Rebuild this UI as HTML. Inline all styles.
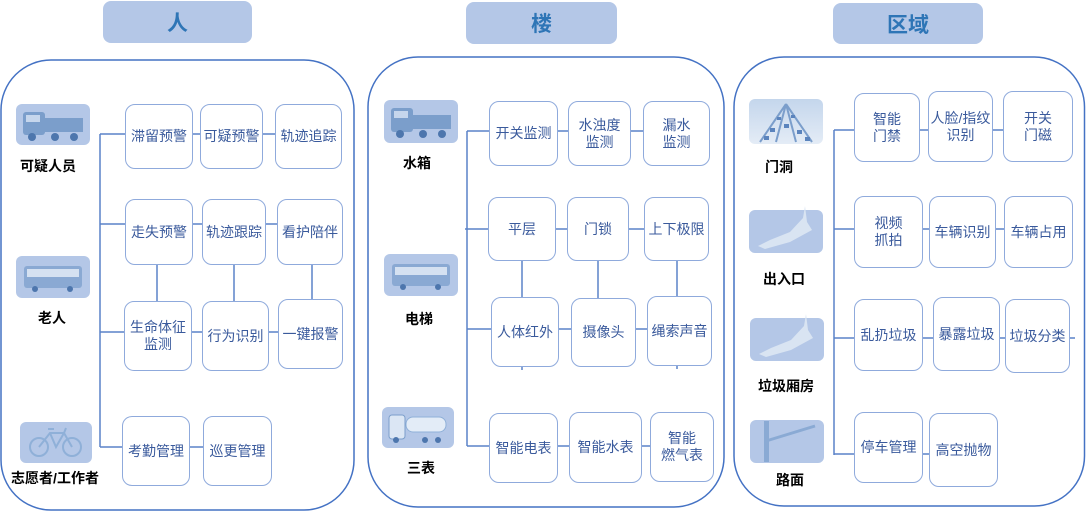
<!DOCTYPE html>
<html><head><meta charset="utf-8">
<style>
html,body{margin:0;padding:0;background:#fff;}
body{width:1086px;height:511px;position:relative;overflow:hidden;font-family:"Liberation Sans","Noto Sans CJK SC",sans-serif;}
svg{position:absolute;left:0;top:0;}
.b{position:absolute;box-sizing:border-box;border:1.3px solid #8faadc;border-radius:10px;background:#fff;display:flex;align-items:center;justify-content:center;text-align:center;color:#3a5a9c;font-size:14px;line-height:17px;white-space:nowrap;}
.t{position:absolute;box-sizing:border-box;background:#b4c7e7;border-radius:8px;display:flex;align-items:center;justify-content:center;color:#2e75b6;font-weight:bold;font-size:21px;}
.l{position:absolute;transform:translate(-50%,-50%);font-weight:bold;font-size:14px;color:#000;white-space:nowrap;}
</style></head><body>
<svg width="1086" height="511" viewBox="0 0 1086 511">
<g fill="none" stroke="#4472c4" stroke-width="1.5">
<rect x="1" y="60" width="353" height="450" rx="50" ry="50"/>
<rect x="368" y="57" width="356" height="450" rx="50" ry="50"/>
<rect x="734" y="57" width="350.5" height="449" rx="50" ry="50"/>
</g>
<g fill="none" stroke="#5a82c8" stroke-width="1.5">
<!-- left -->
<line x1="100" y1="134" x2="100" y2="447"/>
<line x1="100" y1="134" x2="275" y2="134"/>
<line x1="100" y1="224" x2="277" y2="224"/>
<line x1="100" y1="332" x2="278" y2="332"/>
<line x1="100" y1="447" x2="203" y2="447"/>
<line x1="157" y1="264" x2="157" y2="301"/>
<line x1="234" y1="264" x2="234" y2="301"/>
<line x1="312" y1="264" x2="312" y2="299"/>
<!-- middle -->
<line x1="467" y1="131" x2="467" y2="446"/>
<line x1="467" y1="131" x2="643" y2="131"/>
<line x1="465" y1="229" x2="644" y2="229"/>
<line x1="467" y1="329" x2="647" y2="329"/>
<line x1="467" y1="446" x2="650" y2="446"/>
<line x1="522" y1="260" x2="522" y2="297"/>
<line x1="598" y1="260" x2="598" y2="298"/>
<line x1="677" y1="260" x2="677" y2="296"/>
<line x1="522" y1="366" x2="522" y2="370"/>
<line x1="677" y1="365" x2="677" y2="369"/>
<!-- right -->
<line x1="834" y1="130" x2="834" y2="455"/>
<line x1="834" y1="130" x2="1003" y2="130"/>
<line x1="834" y1="229" x2="1004" y2="229"/>
<line x1="834" y1="338" x2="1075" y2="338"/>
<line x1="834" y1="454" x2="929" y2="454"/>
</g>
<defs>
<linearGradient id="rd" x1="0" y1="0" x2="0" y2="1"><stop offset="0" stop-color="#c4d6ec"/><stop offset="1" stop-color="#e4ecf6"/></linearGradient>
</defs>
<!-- truck left -->
<rect x="16" y="104" width="74" height="41" rx="6" fill="#b4c7e7"/>
<g fill="#7b9ecb">
<rect x="23" y="112" width="22" height="23" rx="3"/>
<rect x="45" y="118" width="38" height="14"/>
<circle cx="32" cy="137" r="4" fill="#4d76ad"/><circle cx="55" cy="137" r="4" fill="#4d76ad"/><circle cx="74" cy="137" r="4" fill="#4d76ad"/>
<rect x="26" y="115" width="14" height="7" fill="#c6d6ec"/>
</g>
<!-- bus left -->
<rect x="16" y="256" width="74" height="42" rx="6" fill="#b4c7e7"/>
<g><rect x="24" y="266" width="58" height="22" rx="3" fill="#8aa9d3"/>
<rect x="27" y="269" width="52" height="8" fill="#d5e1f1"/>
<circle cx="35" cy="289" r="3" fill="#4d76ad"/><circle cx="70" cy="289" r="3" fill="#4d76ad"/></g>
<!-- bike -->
<rect x="20" y="422" width="72" height="41" rx="6" fill="#b4c7e7"/>
<g fill="none" stroke="#8fb0d8" stroke-width="2">
<circle cx="39" cy="447" r="9"/><circle cx="72" cy="447" r="9"/>
<path d="M39 447 L50 433 L64 433 L72 447 M50 433 L56 447 L64 433 M48 429 L54 429 M64 433 L66 428"/>
</g>
<!-- middle truck -->
<rect x="384" y="100" width="74" height="43" rx="6" fill="#b4c7e7"/>
<g fill="#7b9ecb">
<rect x="391" y="108" width="22" height="24" rx="3"/>
<rect x="413" y="115" width="38" height="14"/>
<circle cx="400" cy="134" r="4" fill="#4d76ad"/><circle cx="423" cy="134" r="4" fill="#4d76ad"/><circle cx="442" cy="134" r="4" fill="#4d76ad"/>
<rect x="394" y="111" width="14" height="7" fill="#c6d6ec"/>
</g>
<!-- middle bus -->
<rect x="384" y="254" width="74" height="42" rx="6" fill="#b4c7e7"/>
<g><rect x="392" y="264" width="58" height="22" rx="3" fill="#8aa9d3"/>
<rect x="395" y="267" width="52" height="8" fill="#d5e1f1"/>
<circle cx="403" cy="287" r="3" fill="#4d76ad"/><circle cx="438" cy="287" r="3" fill="#4d76ad"/></g>
<!-- tanker -->
<rect x="382" y="407" width="72" height="41" rx="6" fill="#b4c7e7"/>
<g><rect x="389" y="415" width="16" height="24" rx="3" fill="#dbe6f4" stroke="#7b9ecb"/>
<rect x="406" y="417" width="40" height="15" rx="7" fill="#e3ecf7" stroke="#8fb0d8"/>
<circle cx="396" cy="440" r="3" fill="#4d76ad"/><circle cx="425" cy="440" r="3" fill="#4d76ad"/><circle cx="438" cy="440" r="3" fill="#4d76ad"/></g>
<!-- 门洞 road -->
<rect x="749" y="99" width="74" height="45" rx="6" fill="url(#rd)"/>
<g stroke="#7b9ecb" stroke-width="2" fill="none">
<path d="M786 104 L760 142 M786 104 L776 142 M786 104 L796 142 M786 104 L812 142"/>
</g>
<g fill="#5b84bd"><rect x="770" y="128" width="5" height="4"/><rect x="784" y="124" width="5" height="4"/><rect x="797" y="130" width="5" height="4"/><rect x="777" y="117" width="4" height="3"/><rect x="791" y="115" width="4" height="3"/><rect x="764" y="136" width="5" height="4"/><rect x="805" y="137" width="5" height="4"/></g>
<!-- 出入口 -->
<rect x="749" y="210" width="74" height="43" rx="6" fill="#b4c7e7"/>
<path d="M758 246 L770 240 L790 232 L803 218 L805 206 L807 222 L812 230 L790 242 L765 249 Z" fill="#d9e4f2"/>
<!-- 垃圾厢房 -->
<rect x="750" y="318" width="74" height="43" rx="6" fill="#b4c7e7"/>
<path d="M759 354 L771 348 L791 340 L804 326 L806 314 L808 330 L813 338 L791 350 L766 357 Z" fill="#d9e4f2"/>
<!-- 路面 -->
<rect x="750" y="420" width="74" height="43" rx="6" fill="#b4c7e7"/>
<rect x="764" y="421" width="5" height="41" fill="#8aaad4"/>
<path d="M766 441 L815 426" stroke="#8aaad4" stroke-width="3"/>
</svg>

<div class="t" style="left:103px;top:1px;width:149px;height:42px;">人</div>
<div class="t" style="left:466px;top:2px;width:151px;height:42px;">楼</div>
<div class="t" style="left:833px;top:3px;width:150px;height:41px;">区域</div>

<div class="l" style="left:48px;top:166px;">可疑人员</div>
<div class="l" style="left:52px;top:318px;">老人</div>
<div class="l" style="left:55px;top:478px;">志愿者/工作者</div>
<div class="l" style="left:417px;top:163px;">水箱</div>
<div class="l" style="left:419px;top:319px;">电梯</div>
<div class="l" style="left:421px;top:468px;">三表</div>
<div class="l" style="left:779px;top:167px;">门洞</div>
<div class="l" style="left:784px;top:279px;">出入口</div>
<div class="l" style="left:786px;top:386px;">垃圾厢房</div>
<div class="l" style="left:790px;top:480px;">路面</div>

<!-- left boxes -->
<div class="b" style="left:125px;top:104px;width:68px;height:65px;">滞留预警</div>
<div class="b" style="left:200px;top:104px;width:63px;height:65px;">可疑预警</div>
<div class="b" style="left:275px;top:104px;width:67px;height:65px;">轨迹追踪</div>
<div class="b" style="left:125px;top:199px;width:68px;height:66px;">走失预警</div>
<div class="b" style="left:202px;top:199px;width:64px;height:66px;">轨迹跟踪</div>
<div class="b" style="left:277px;top:199px;width:66px;height:66px;">看护陪伴</div>
<div class="b" style="left:124px;top:301px;width:68px;height:70px;">生命体征<br>监测</div>
<div class="b" style="left:202px;top:301px;width:67px;height:70px;">行为识别</div>
<div class="b" style="left:278px;top:299px;width:65px;height:70px;">一键报警</div>
<div class="b" style="left:122px;top:416px;width:68px;height:70px;">考勤管理</div>
<div class="b" style="left:203px;top:416px;width:69px;height:70px;">巡更管理</div>

<!-- middle boxes -->
<div class="b" style="left:489px;top:101px;width:69px;height:65px;">开关监测</div>
<div class="b" style="left:568px;top:101px;width:63px;height:65px;">水浊度<br>监测</div>
<div class="b" style="left:643px;top:101px;width:67px;height:65px;">漏水<br>监测</div>
<div class="b" style="left:488px;top:197px;width:68px;height:64px;">平层</div>
<div class="b" style="left:567px;top:197px;width:62px;height:64px;">门锁</div>
<div class="b" style="left:644px;top:197px;width:65px;height:64px;">上下极限</div>
<div class="b" style="left:491px;top:297px;width:68px;height:70px;">人体红外</div>
<div class="b" style="left:571px;top:298px;width:65px;height:69px;">摄像头</div>
<div class="b" style="left:647px;top:296px;width:65px;height:70px;">绳索声音</div>
<div class="b" style="left:489px;top:413px;width:69px;height:70px;">智能电表</div>
<div class="b" style="left:569px;top:412px;width:73px;height:71px;">智能水表</div>
<div class="b" style="left:650px;top:412px;width:64px;height:70px;">智能<br>燃气表</div>

<!-- right boxes -->
<div class="b" style="left:854px;top:93px;width:66px;height:69px;">智能<br>门禁</div>
<div class="b" style="left:928px;top:91px;width:65px;height:71px;">人脸/指纹<br>识别</div>
<div class="b" style="left:1003px;top:91px;width:70px;height:71px;">开关<br>门磁</div>
<div class="b" style="left:854px;top:196px;width:69px;height:72px;">视频<br>抓拍</div>
<div class="b" style="left:929px;top:196px;width:67px;height:72px;">车辆识别</div>
<div class="b" style="left:1004px;top:196px;width:69px;height:72px;">车辆占用</div>
<div class="b" style="left:854px;top:299px;width:69px;height:72px;">乱扔垃圾</div>
<div class="b" style="left:933px;top:297px;width:67px;height:74px;">暴露垃圾</div>
<div class="b" style="left:1005px;top:299px;width:65px;height:74px;">垃圾分类</div>
<div class="b" style="left:854px;top:412px;width:69px;height:71px;">停车管理</div>
<div class="b" style="left:929px;top:413px;width:69px;height:74px;">高空抛物</div>
</body></html>
